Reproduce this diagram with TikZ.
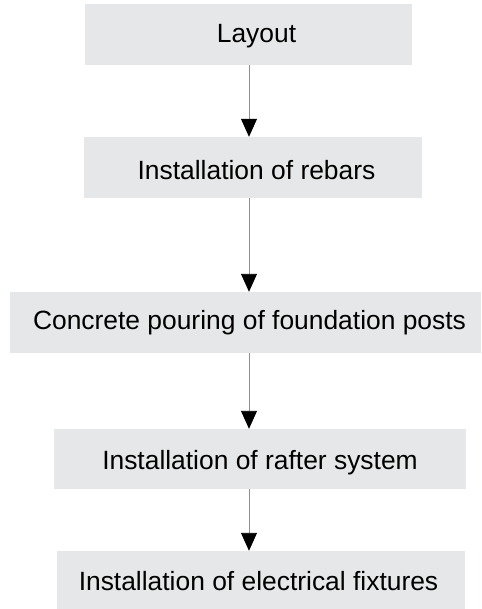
\documentclass[tikz,border=0pt]{standalone}
\usepackage{fontspec}
\setmainfont{Liberation Sans}
\usetikzlibrary{arrows.meta}
\definecolor{boxgray}{HTML}{E6E7E8}
\definecolor{linegray}{HTML}{909090}
\tikzset{
  box/.style={fill=boxgray, draw=none, inner sep=0pt, minimum width=#1},
  lbl/.style={inner sep=0pt, anchor=base, font=\fontsize{26.4}{30}\selectfont, text=black},
  arr/.style={draw=linegray, line width=0.9pt, -{Triangle[length=18pt,width=16pt,black]}}
}
\begin{document}
\begin{tikzpicture}[x=1pt,y=-1pt]
\useasboundingbox (0,0) rectangle (481,609);
\coordinate (ax) at (249,0);
\node[box=327pt, minimum height=61pt] (b1) at (248.5,34.5) {};
\node[box=338pt, minimum height=61pt] (b2) at (253,167.5) {};
\node[box=471pt, minimum height=61pt] (b3) at (245.5,322.5) {};
\node[box=412pt, minimum height=60pt] (b4) at (260,459) {};
\node[box=408pt, minimum height=58pt] (b5) at (261,580) {};
\node[lbl] (t1) at (256.5,42.7) {Layout};
\node[lbl] (t2) at (256.5,179.3) {Installation of rebars};
\node[lbl] (t3) at (249.5,329.7) {Concrete pouring of foundation posts};
\node[lbl] (t4) at (260,469.3) {Installation of rafter system};
\node[lbl] (t5) at (258.5,590.3) {Installation of electrical fixtures};
\draw[arr] (b1.south -| ax) -- (b2.north -| ax);
\draw[arr] (b2.south -| ax) -- (b3.north -| ax);
\draw[arr] (b3.south -| ax) -- (b4.north -| ax);
\draw[arr] (b4.south -| ax) -- (b5.north -| ax);
\end{tikzpicture}
\end{document}
